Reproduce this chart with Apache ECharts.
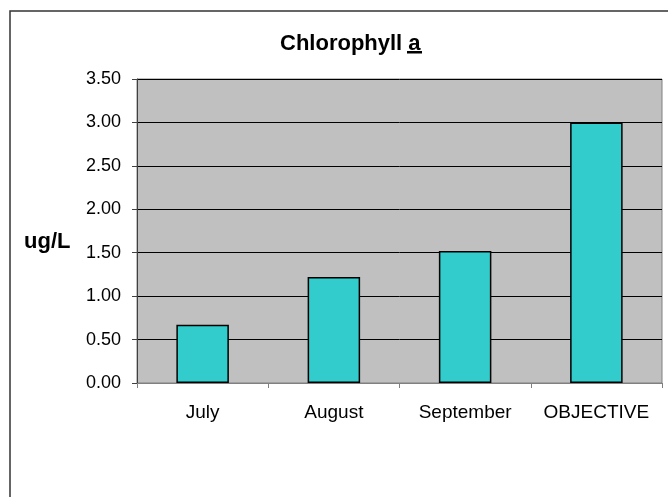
<!DOCTYPE html>
<html>
<head>
<meta charset="utf-8">
<script src="https://cdn.jsdelivr.net/npm/echarts@6/dist/echarts.min.js"></script>
<style>
  html, body { margin: 0; padding: 0; background: #fff; }
  #chart { width: 668px; height: 497px; }
</style>
</head>
<body>
<div id="chart"></div>
<script>
// values
var months = ["July", "August", "September", "OBJECTIVE"];
var chlorophyll = [0.67, 1.22, 1.52, 3.0];
var yTicks = [0, 0.5, 1, 1.5, 2, 2.5, 3, 3.5];

var myChart = echarts.init(document.getElementById("chart"));
var font = "Liberation Sans, Arial, sans-serif";

var option = {
  backgroundColor: "#fff",
  animation: false,
  title: {
    text: "Chlorophyll a",
    left: 275,
    top: 28,
    textStyle: {
      fontFamily: font,
      fontSize: 22,
      fontWeight: "bold",
      color: "#000",
    },
  },
  graphic: [
    {
      // outer chart frame (runs off the right/bottom edge)
      type: "rect",
      shape: { x: 10, y: 11, width: 720, height: 600 },
      style: { fill: "none", stroke: "#333", lineWidth: 1.5 },
      silent: true,
      z: 0,
    },
    {
      // underline under the "a"
      type: "rect",
      shape: { x: 407, y: 51, width: 15, height: 2.5 },
      style: { fill: "#000" },
      silent: true,
    },
    {
      type: "text",
      left: 24,
      top: 231,
      style: {
        text: "ug/L",
        font: "bold 22px " + font,
        fill: "#000",
      },
    },
  ],
  grid: {
    left: 137,
    right: 6,
    top: 79,
    bottom: 114,
    show: true,
    backgroundColor: "#C0C0C0",
    borderColor: "#808080",
    borderWidth: 1,
  },
  xAxis: {
    type: "category",
    data: months,
    axisLine: { lineStyle: { color: "#808080", width: 1 } },
    axisTick: {
      show: true,
      interval: 0,
      length: 5,
      lineStyle: { color: "#808080" },
    },
    axisLabel: {
      interval: 0,
      color: "#000",
      fontFamily: font,
      fontSize: 19,
      margin: 20,
    },
  },
  yAxis: {
    type: "value",
    min: yTicks[0],
    max: yTicks[yTicks.length - 1],
    interval: 0.5,
    axisLine: { show: true, lineStyle: { color: "#404040", width: 1 } },
    axisTick: { show: true, length: 5, lineStyle: { color: "#404040" } },
    axisLabel: {
      color: "#000",
      fontFamily: font,
      fontSize: 18,
      margin: 16,
      formatter: function (v) {
        return v.toFixed(2);
      },
    },
    splitLine: { show: true, lineStyle: { color: "#000", width: 1 } },
  },
  series: [
    {
      type: "bar",
      data: chlorophyll,
      barWidth: "40%",
      itemStyle: {
        color: "#33CCCC",
        borderColor: "#000",
        borderWidth: 1.5,
      },
    },
  ],
};

myChart.setOption(option);
</script>
</body>
</html>
